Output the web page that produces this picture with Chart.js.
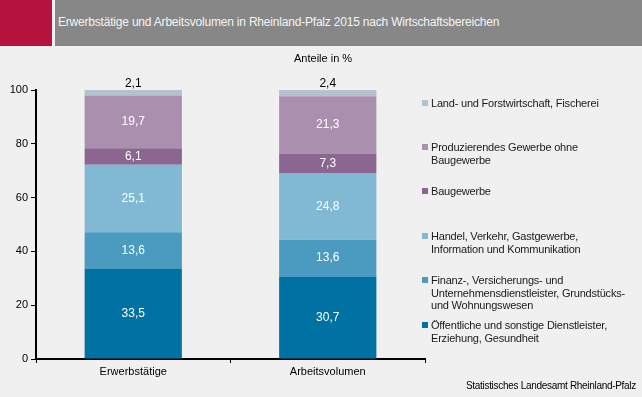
<!DOCTYPE html>
<html lang="de">
<head>
<meta charset="UTF-8">
<title>Erwerbstätige und Arbeitsvolumen</title>
<script src="https://cdn.jsdelivr.net/npm/chart.js"></script>
<style>
  html, body { margin: 0; padding: 0; background: #eff0ef; }
  body { width: 642px; height: 397px; position: relative; overflow: hidden; font-family: "Liberation Sans", Arial, sans-serif; }
  #head { position: absolute; left: 0; top: 0; width: 642px; height: 46px; background: #878787; }
  #head .red { position: absolute; left: 0; top: 0; width: 52px; height: 46px; background: #b5123e; }
  #head .gap { position: absolute; left: 52px; top: 0; width: 3px; height: 46px; background: #eff0ef; }
  #head .title { position: absolute; left: 58px; top: 15px; font-size: 12px; color: #f4f4f4; letter-spacing: -0.2px; white-space: nowrap; }
  #unit { position: absolute; left: 294px; top: 52px; font-size: 11px; color: #000; }
  #src { position: absolute; right: 6px; top: 380px; font-size: 10px; color: #000; letter-spacing: -0.3px; }
  #legend { position: absolute; left: 421px; top: 0; font-size: 11px; color: #1a1a1a; line-height: 12.5px; }
  #legend .item { position: absolute; left: 0; width: 215px; padding-left: 10px; letter-spacing: -0.2px; }
  #legend .sw { position: absolute; left: 1px; top: 3px; width: 6px; height: 6px; }
  canvas { position: absolute; left: 0; top: 0; }
</style>
</head>
<body>
<canvas id="myChart" width="642" height="397"></canvas>
<div id="head"><div class="red"></div><div class="gap"></div>
  <div class="title">Erwerbstätige und Arbeitsvolumen in Rheinland-Pfalz 2015 nach Wirtschaftsbereichen</div></div>
<div id="unit">Anteile in %</div>
<div id="legend"></div>
<div id="src">Statistisches Landesamt Rheinland-Pfalz</div>
<script>
const categories = ['Erwerbstätige', 'Arbeitsvolumen'];
const seriesNames = [
  'Öffentliche und sonstige Dienstleister, Erziehung, Gesundheit',
  'Finanz-, Versicherungs- und Unternehmensdienstleister, Grundstücks- und Wohnungswesen',
  'Handel, Verkehr, Gastgewerbe, Information und Kommunikation',
  'Baugewerbe',
  'Produzierendes Gewerbe ohne Baugewerbe',
  'Land- und Forstwirtschaft, Fischerei'
];
const legendLines = [
  ['Öffentliche und sonstige Dienstleister,', 'Erziehung, Gesundheit'],
  ['Finanz-, Versicherungs- und', 'Unternehmensdienstleister, Grundstücks-', 'und Wohnungswesen'],
  ['Handel, Verkehr, Gastgewerbe,', 'Information und Kommunikation'],
  ['Baugewerbe'],
  ['Produzierendes Gewerbe ohne', 'Baugewerbe'],
  ['Land- und Forstwirtschaft, Fischerei']
];
const oeffentlich = [33.5, 30.7];
const finanz = [13.6, 13.6];
const handel = [25.1, 24.8];
const bau = [6.1, 7.3];
const produzierend = [19.7, 21.3];
const land = [2.1, 2.4];
const yTicks = [0, 20, 40, 60, 80, 100];

const seriesValues = [oeffentlich, finanz, handel, bau, produzierend, land];
const colors = ['#0071a3', '#4b9bc0', '#81b8d4', '#8b6690', '#ab8fae', '#b3c2cb'];
const legendTop = [319, 274, 230, 185, 141, 97];

// legend (HTML)
const leg = document.getElementById('legend');
for (let i = seriesNames.length - 1; i >= 0; i--) {
  const d = document.createElement('div');
  d.className = 'item';
  d.style.top = legendTop[i] + 'px';
  d.innerHTML = '<span class="sw" style="background:' + colors[i] + '"></span>' + legendLines[i].join('<br>');
  leg.appendChild(d);
}

const fmt = v => v.toFixed(1).replace('.', ',');

const labelPlugin = {
  id: 'segLabels',
  afterDatasetsDraw(chart) {
    const ctx = chart.ctx;
    ctx.save();
    ctx.font = '12px "Liberation Sans", Arial, sans-serif';
    ctx.textAlign = 'center';
    ctx.textBaseline = 'middle';
    const last = chart.data.datasets.length - 1;
    chart.data.datasets.forEach((ds, i) => {
      chart.getDatasetMeta(i).data.forEach((bar, j) => {
        const v = ds.data[j];
        if (i === last) {
          ctx.fillStyle = '#000';
          ctx.fillText(fmt(v), bar.x, bar.y - 6);
        } else {
          ctx.fillStyle = '#ffffff';
          ctx.fillText(fmt(v), bar.x, (bar.y + bar.base) / 2);
        }
      });
    });
    ctx.restore();
  }
};

new Chart(document.getElementById('myChart').getContext('2d'), {
  type: 'bar',
  data: {
    labels: categories,
    datasets: seriesValues.map((vals, i) => ({
      label: seriesNames[i],
      data: vals,
      backgroundColor: colors[i],
      borderWidth: 0,
      categoryPercentage: 1,
      barPercentage: 0.5
    }))
  },
  options: {
    responsive: false,
    animation: false,
    layout: { padding: { top: 90, right: 217, left: 0, bottom: 0 } },
    plugins: { legend: { display: false }, tooltip: { enabled: false } },
    scales: {
      x: {
        stacked: true,
        afterFit: s => { s.height = 38; },
        border: { color: '#000', width: 2 },
        grid: { offset: true, drawOnChartArea: false, color: '#000', tickLength: 4 },
        ticks: { color: '#000', font: { size: 11, family: '"Liberation Sans", Arial' }, padding: 2 }
      },
      y: {
        stacked: true,
        min: 0, max: 100,
        afterBuildTicks: s => { s.ticks = yTicks.map(v => ({ value: v })); },
        afterFit: s => { s.width = 36; },
        border: { color: '#000', width: 2 },
        grid: { drawOnChartArea: false, color: '#000', tickLength: 5 },
        ticks: { color: '#000', font: { size: 11, family: '"Liberation Sans", Arial' }, padding: 3 }
      }
    }
  },
  plugins: [labelPlugin]
});
</script>
</body>
</html>
